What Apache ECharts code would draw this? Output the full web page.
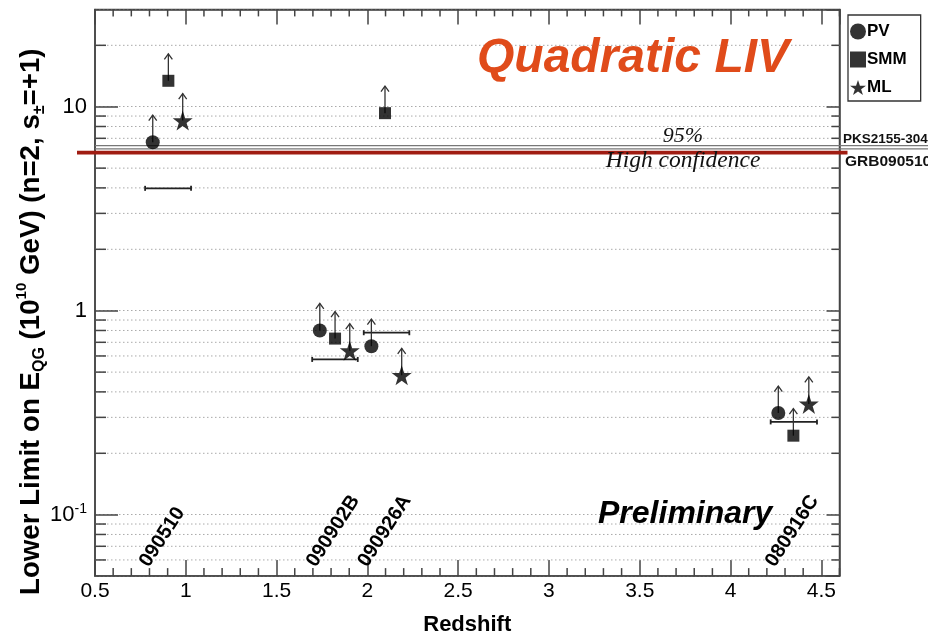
<!DOCTYPE html>
<html><head><meta charset="utf-8">
<script src="https://cdn.jsdelivr.net/npm/echarts@6/dist/echarts.min.js"></script>
<style>html,body{margin:0;padding:0;background:#fff}#c{width:928px;height:639px}</style>
</head><body><div id="c"></div>
<script>
// ---- data ----
const pvX  = [0.818, 1.738, 2.022, 4.263];
const pvY  = [6.7, 0.80, 0.67, 0.315];
const smmX = [0.904, 1.822, 2.097, 4.346];
const smmY = [13.4, 0.73, 9.3, 0.244];
const mlX  = [0.983, 1.903, 2.189, 4.431];
const mlY  = [8.55, 0.637, 0.482, 0.349];
const errLow  = [0.776, 1.696, 1.980, 4.221];
const errHigh = [1.029, 1.947, 2.231, 4.476];
const errY    = [3.98, 0.577, 0.78, 0.285];
const grbNames = ['090510', '090902B', '090926A', '080916C'];
const grbZ     = [0.903, 1.822, 2.106, 4.35];
const pksLines = [6.44, 6.21];
const grbLimit = [5.96];
const xMajorTicks = [0.5, 1, 1.5, 2, 2.5, 3, 3.5, 4, 4.5];
const xMinorTicks = [0.6,0.7,0.8,0.9,1.1,1.2,1.3,1.4,1.6,1.7,1.8,1.9,2.1,2.2,2.3,2.4,2.6,2.7,2.8,2.9,3.1,3.2,3.3,3.4,3.6,3.7,3.8,3.9,4.1,4.2,4.3,4.4,4.6];
const yMinorTicks = [0.06,0.07,0.08,0.09,0.2,0.3,0.4,0.5,0.6,0.7,0.8,0.9,2,3,4,5,6,7,8,9,20];
const X_MIN = 0.5, X_MAX = 4.6, Y_MIN = 0.05, Y_MAX = 30;

const SANS = '"Liberation Sans", Arial, Helvetica, sans-serif';
const SERIF = '"Liberation Serif", "Times New Roman", serif';
const FRAME = '#444';
const STAR = 'path://M50,0 L61.8,35.1 L98.9,35.1 L69,56.8 L80.3,91.9 L50,70.2 L19.7,91.9 L31,56.8 L1.1,35.1 L38.2,35.1 Z';

const zip = (a, b) => a.map((v, i) => [v, b[i]]);
const allPts = zip(pvX, pvY).concat(zip(smmX, smmY), zip(mlX, mlY));

function yTickLabel(v) {
  const e = Math.round(Math.log10(v) * 1000) / 1000;
  if (e === -1) return '{b|10}{s|-1}';
  if (e === 0) return '{b|1}';
  if (e === 1) return '{b|10}';
  return '';
}

const chart = echarts.init(document.getElementById('c'), null, {renderer: 'canvas'});
const option = {
  animation: false,
  backgroundColor: '#fff',
  grid: {left: 95, top: 9.4, width: 744.5, height: 566.7, outerBoundsMode: 'none', containLabel: false,
    show: true, borderColor: FRAME, borderWidth: 1.5, backgroundColor: 'transparent'},
  legend: {
    orient: 'vertical', left: 848, top: 15, selectedMode: false,
    itemWidth: 16, itemHeight: 16, itemGap: 11,
    padding: [8, 14, 5, 2],
    borderColor: '#333', borderWidth: 1.3,
    textStyle: {fontFamily: SANS, fontWeight: 'bold', fontSize: 17, color: '#000', padding: [0, 0, 0, -4]},
    data: [{name: 'PV', icon: 'circle'}, {name: 'SMM', icon: 'rect'}, {name: 'ML', icon: STAR}]
  },
  xAxis: [{
    type: 'value', min: X_MIN, max: X_MAX, interval: 0.5, position: 'bottom',
    name: 'Redshift', nameLocation: 'middle', nameGap: 38,
    nameTextStyle: {fontFamily: SANS, fontWeight: 'bold', fontSize: 22, color: '#000'},
    axisLine: {show: true, onZero: false, lineStyle: {color: FRAME, width: 1.5}},
    axisTick: {show: true, inside: true, length: 16, lineStyle: {color: FRAME, width: 1.5}},
    axisLabel: {show: true, margin: 5, fontFamily: SANS, fontSize: 21, color: '#000', showMaxLabel: false,
      formatter: v => (xMajorTicks.indexOf(Math.round(v * 10) / 10) >= 0 ? String(Math.round(v * 10) / 10) : '')},
    splitLine: {show: false}
  }, {
    type: 'value', min: X_MIN, max: X_MAX, interval: 0.5, position: 'top',
    axisLine: {show: true, onZero: false, lineStyle: {color: FRAME, width: 1.5}},
    axisTick: {show: true, inside: true, length: 15, lineStyle: {color: FRAME, width: 1.5}},
    axisLabel: {show: false}, splitLine: {show: false}
  }],
  yAxis: [{
    type: 'log', logBase: 10, min: Y_MIN, max: Y_MAX, position: 'left',
    name: '{t|Lower Limit on E}{sub|QG}{t| (10}{sup|10}{t| GeV) (n=2, s}{sub|±}{t|=+1)}',
    nameLocation: 'middle', nameGap: 47, nameRotate: 90, nameMoveOverlap: false,
    nameTextStyle: {
      padding: [0, 58, 0, 0],
      rich: {
        t:   {fontFamily: SANS, fontWeight: 'bold', fontSize: 27.7, color: '#000', lineHeight: 34},
        sub: {fontFamily: SANS, fontWeight: 'bold', fontSize: 16, color: '#000', lineHeight: 17, verticalAlign: 'bottom'},
        sup: {fontFamily: SANS, fontWeight: 'bold', fontSize: 15, color: '#000', lineHeight: 17, verticalAlign: 'top'}
      }
    },
    axisLine: {show: true, onZero: false, lineStyle: {color: FRAME, width: 1.5}},
    axisTick: {show: true, inside: true, length: 23, lineStyle: {color: FRAME, width: 1.5}},
    axisLabel: {show: true, margin: 8, formatter: yTickLabel, showMinLabel: false, showMaxLabel: false,
      rich: {
        b: {fontFamily: SANS, fontSize: 22, color: '#000', lineHeight: 26},
        s: {fontFamily: SANS, fontSize: 14, color: '#000', lineHeight: 14, verticalAlign: 'top'}
      }},
    splitLine: {show: true, lineStyle: {color: '#aaa', width: 1, type: [1.5, 2.5]}}
  }, {
    type: 'log', logBase: 10, min: Y_MIN, max: Y_MAX, position: 'right',
    axisLine: {show: true, onZero: false, lineStyle: {color: FRAME, width: 1.5}},
    axisTick: {show: true, inside: true, length: 13, lineStyle: {color: FRAME, width: 1.5}},
    axisLabel: {show: false}, splitLine: {show: false}
  }],
  graphic: [
    {type: 'text', left: 477, top: 35, z: 100, style: {text: 'Quadratic LIV', fontFamily: SANS, fontWeight: 'bold', fontStyle: 'italic', fontSize: 48, fill: '#e04b1a'}},
    {type: 'text', left: 598, top: 498, z: 100, style: {text: 'Preliminary', fontFamily: SANS, fontWeight: 'bold', fontStyle: 'italic', fontSize: 32, fill: '#000'}},
    {type: 'text', x: 683, y: 136, z: 100, style: {text: '95%', fontFamily: SERIF, fontStyle: 'italic', fontSize: 22, fill: '#111', align: 'center', verticalAlign: 'middle'}},
    {type: 'text', x: 683, y: 161, z: 100, style: {text: 'High confidence', fontFamily: SERIF, fontStyle: 'italic', fontSize: 23.5, fill: '#111', align: 'center', verticalAlign: 'middle'}},
    {type: 'text', x: 843, y: 139, z: 100, style: {text: 'PKS2155-304', fontFamily: SANS, fontWeight: 'bold', fontSize: 13.5, fill: '#111', align: 'left', verticalAlign: 'middle'}},
    {type: 'text', x: 845, y: 162, z: 100, style: {text: 'GRB090510', fontFamily: SANS, fontWeight: 'bold', fontSize: 15.5, fill: '#111', align: 'left', verticalAlign: 'middle'}}
  ],
  series: [
    // y minor gridlines + ticks
    {type: 'custom', xAxisIndex: 0, yAxisIndex: 0, silent: true, z: 1,
      data: yMinorTicks.map(v => [X_MIN, v]),
      renderItem: (params, api) => {
        const cs = params.coordSys;
        const y = api.coord([X_MIN, api.value(1)])[1];
        return {type: 'group', children: [
          {type: 'line', shape: {x1: cs.x, y1: y, x2: cs.x + cs.width, y2: y}, style: {stroke: '#aaa', lineWidth: 1, lineDash: [1.5, 2.5]}},
          {type: 'line', shape: {x1: cs.x, y1: y, x2: cs.x + 11, y2: y}, style: {stroke: FRAME, lineWidth: 1.5}},
          {type: 'line', shape: {x1: cs.x + cs.width - 8, y1: y, x2: cs.x + cs.width, y2: y}, style: {stroke: FRAME, lineWidth: 1.5}}
        ]};
      }},
    // x minor ticks
    {type: 'custom', xAxisIndex: 0, yAxisIndex: 0, silent: true, z: 1,
      data: xMinorTicks.map(v => [v, Y_MIN]),
      renderItem: (params, api) => {
        const cs = params.coordSys;
        const x = api.coord([api.value(0), Y_MIN])[0];
        return {type: 'group', children: [
          {type: 'line', shape: {x1: x, y1: cs.y + cs.height, x2: x, y2: cs.y + cs.height - 8}, style: {stroke: FRAME, lineWidth: 1.5}},
          {type: 'line', shape: {x1: x, y1: cs.y, x2: x, y2: cs.y + 7}, style: {stroke: FRAME, lineWidth: 1.5}}
        ]};
      }},
    // PKS2155-304 limit lines (gray)
    {type: 'custom', silent: true, z: 3, clip: false,
      data: pksLines.map(v => [X_MIN, v]),
      renderItem: (params, api) => {
        const cs = params.coordSys;
        const y = api.coord([X_MIN, api.value(1)])[1];
        return {type: 'line', shape: {x1: cs.x, y1: y, x2: cs.x + cs.width + 100, y2: y}, style: {stroke: '#777', lineWidth: 1.3}};
      }},
    // GRB090510 limit (red)
    {type: 'custom', silent: true, z: 4, clip: false,
      data: grbLimit.map(v => [X_MIN, v]),
      renderItem: (params, api) => {
        const cs = params.coordSys;
        const y = api.coord([X_MIN, api.value(1)])[1];
        return {type: 'line', shape: {x1: cs.x - 18, y1: y, x2: cs.x + cs.width + 8, y2: y}, style: {stroke: '#a01c12', lineWidth: 3.8}};
      }},
    // redshift error bars
    {type: 'custom', silent: true, z: 5,
      data: errLow.map((l, i) => [l, errHigh[i], errY[i]]),
      encode: {x: [0, 1], y: 2},
      renderItem: (params, api) => {
        const a = api.coord([api.value(0), api.value(2)]);
        const b = api.coord([api.value(1), api.value(2)]);
        const st = {stroke: '#222', lineWidth: 1.8};
        return {type: 'group', children: [
          {type: 'line', shape: {x1: a[0], y1: a[1], x2: b[0], y2: b[1]}, style: st},
          {type: 'line', shape: {x1: a[0], y1: a[1] - 2.5, x2: a[0], y2: a[1] + 2.5}, style: st},
          {type: 'line', shape: {x1: b[0], y1: b[1] - 2.5, x2: b[0], y2: b[1] + 2.5}, style: st}
        ]};
      }},
    // lower-limit arrows
    {type: 'custom', silent: true, z: 6,
      data: allPts,
      renderItem: (params, api) => {
        const p = api.coord([api.value(0), api.value(1)]);
        const st = {stroke: '#333', lineWidth: 1.3, fill: null};
        return {type: 'group', children: [
          {type: 'line', shape: {x1: p[0], y1: p[1], x2: p[0], y2: p[1] - 27}, style: st},
          {type: 'polyline', shape: {points: [[p[0] - 4, p[1] - 21.5], [p[0], p[1] - 27], [p[0] + 4, p[1] - 21.5]]}, style: st}
        ]};
      }},
    // GRB name labels along the bottom
    {type: 'custom', silent: true, z: 7, clip: false,
      data: grbZ.map(z => [z, Y_MIN]),
      renderItem: (params, api) => {
        const p = api.coord([api.value(0), Y_MIN]);
        return {type: 'text', x: p[0] - 24, y: p[1] - 11, rotation: 57 * Math.PI / 180,
          style: {text: grbNames[params.dataIndex], fontFamily: SANS, fontWeight: 'bold', fontSize: 20, fill: '#000', align: 'left', verticalAlign: 'middle'}};
      }},
    {name: 'PV', type: 'scatter', z: 10, symbol: 'circle', symbolSize: 14, itemStyle: {color: '#000'}, data: zip(pvX, pvY)},
    {name: 'SMM', type: 'scatter', z: 10, symbol: 'rect', symbolSize: 12, itemStyle: {color: '#000'}, data: zip(smmX, smmY)},
    {name: 'ML', type: 'scatter', z: 10, symbol: STAR, symbolSize: 20, itemStyle: {color: '#000'}, data: zip(mlX, mlY)}
  ]
};
chart.setOption(option);
</script>
</body></html>
